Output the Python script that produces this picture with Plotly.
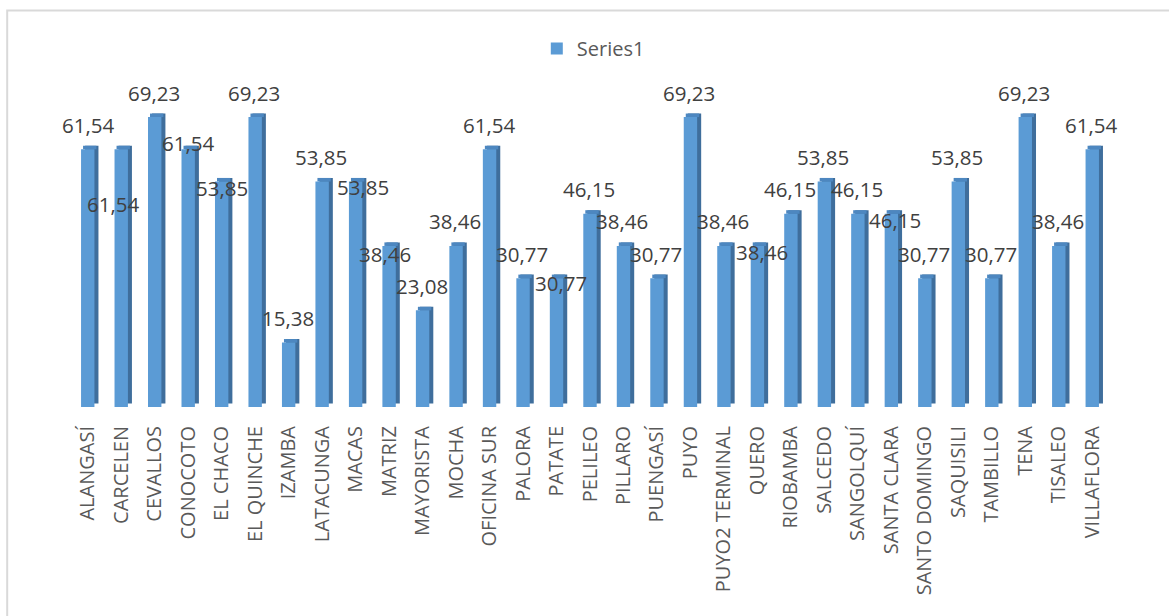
import plotly.graph_objects as go

# Percentages per market
categories = [
    "ALANGASÍ", "CARCELEN", "CEVALLOS", "CONOCOTO", "EL CHACO", "EL QUINCHE",
    "IZAMBA", "LATACUNGA", "MACAS", "MATRIZ", "MAYORISTA", "MOCHA",
    "OFICINA SUR", "PALORA", "PATATE", "PELILEO", "PILLARO", "PUENGASÍ",
    "PUYO", "PUYO2 TERMINAL", "QUERO", "RIOBAMBA", "SALCEDO", "SANGOLQUÍ",
    "SANTA CLARA", "SANTO DOMINGO", "SAQUISILI", "TAMBILLO", "TENA",
    "TISALEO", "VILLAFLORA",
]
values = [
    61.54, 61.54, 69.23, 61.54, 53.85, 69.23,
    15.38, 53.85, 53.85, 38.46, 23.08, 38.46,
    61.54, 30.77, 30.77, 46.15, 38.46, 30.77,
    69.23, 38.46, 38.46, 46.15, 53.85, 46.15,
    46.15, 30.77, 53.85, 30.77, 69.23,
    38.46, 61.54,
]
series_name = "Series1"

# Styling
FRONT = "#5B9BD5"
SIDE = "#3F6E9C"
TOP = "#4D87C0"
LABEL_FONT = "Open Sans"
BAR_W = 0.40      # front face width (category units)
DEPTH_X = 0.12    # 3D depth, horizontal (category units)
DEPTH_Y = 0.85    # 3D depth, vertical (value units)

# Pixel offsets of data labels (dx right, dy down) from the bar top centre
default_offset = (-1, -24.5)
label_offsets = {
    "ALANGASÍ": (0, -24),
    "CARCELEN": (-8, 55),
    "CONOCOTO": (0, -6),
    "EL CHACO": (0, 6),
    "MACAS": (7, 5),
    "MATRIZ": (-4, 8),
    "PATATE": (4.5, 4.5),
    "QUERO": (4.5, 6.5),
    "SANTA CLARA": (4, 6),
}

fig = go.Figure()

# back/side block of each column
fig.add_trace(go.Bar(
    x=categories, y=values, base=DEPTH_Y,
    width=BAR_W, offset=-BAR_W / 2 + DEPTH_X,
    marker=dict(color=SIDE, line=dict(width=0)),
    showlegend=False, hoverinfo="skip",
))
# top face
fig.add_trace(go.Bar(
    x=categories, y=[DEPTH_Y] * len(values), base=values,
    width=BAR_W, offset=-BAR_W / 2 + DEPTH_X / 2,
    marker=dict(color=TOP, line=dict(width=0)),
    showlegend=False, hoverinfo="skip",
))
# front face
fig.add_trace(go.Bar(
    x=categories, y=values, name=series_name,
    width=BAR_W, offset=-BAR_W / 2,
    marker=dict(color=FRONT, line=dict(width=0)),
    showlegend=True, hoverinfo="skip",
))

annotations = []
for cat, v in zip(categories, values):
    dx, dy = label_offsets.get(cat, default_offset)
    annotations.append(dict(
        x=cat, y=v, xref="x", yref="y",
        text=f"{v:.2f}".replace(".", ","),
        showarrow=False, xanchor="center", yanchor="middle",
        xshift=dx, yshift=-dy,
        font=dict(family=LABEL_FONT, size=20.5, color="#404040"),
    ))

# plot area in pixels
W, H = 1169, 616
L, R, T, B = 70.8, 1108.6, 71.5, 406.7
pw, ph = R - L, B - T

def px_x(p):
    return (p - L) / pw

def px_y(p):
    return (B - p) / ph

fig.update_layout(
    width=W, height=H,
    margin=dict(l=L, r=W - R, t=T, b=H - B, autoexpand=False),
    paper_bgcolor="white", plot_bgcolor="white",
    barmode="overlay",
    showlegend=True,
    legend=dict(
        x=px_x(593), y=px_y(48), xanchor="center", yanchor="middle",
        orientation="h",
        font=dict(family=LABEL_FONT, size=20, color="#595959"),
        bgcolor="rgba(0,0,0,0)",
    ),
    xaxis=dict(
        type="category", range=[-0.5, len(categories) - 0.5],
        showgrid=False, showline=False, zeroline=False, ticks="",
        tickangle=-90, ticklabelstandoff=14,
        tickfont=dict(family=LABEL_FONT, size=20, color="#595959"),
    ),
    yaxis=dict(range=[0, 80], visible=False, showgrid=False, zeroline=False),
    annotations=annotations,
    shapes=[dict(
        type="rect", xref="paper", yref="paper",
        x0=px_x(7), x1=px_x(1180), y0=px_y(630), y1=px_y(10),
        line=dict(color="#D9D9D9", width=2), fillcolor="rgba(0,0,0,0)",
        layer="below",
    )],
    hovermode=False,
)

fig.write_html("out.html")
